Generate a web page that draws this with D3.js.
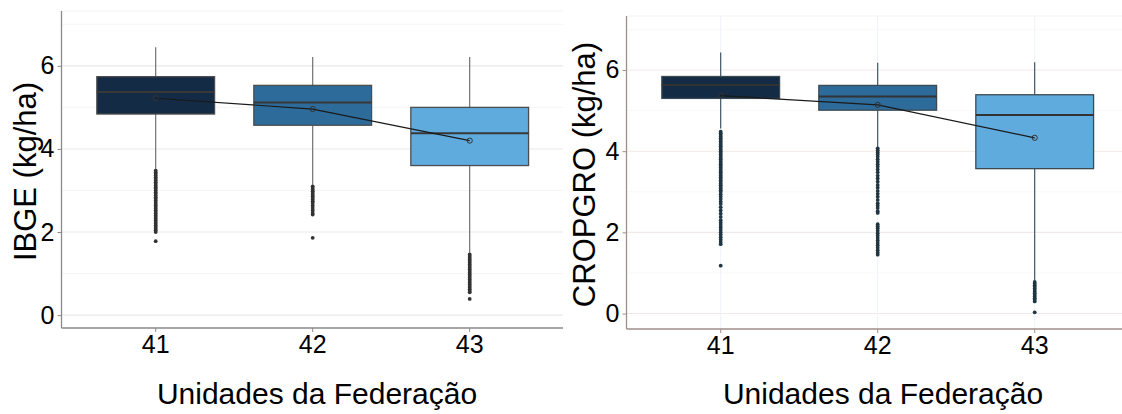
<!DOCTYPE html>
<html>
<head>
<meta charset="utf-8">
<script src="https://cdn.jsdelivr.net/npm/d3@7"></script>
<style>
  body { margin: 0; background: #fff; }
  text { font-family: "Liberation Sans", Arial, sans-serif; }
</style>
</head>
<body>
<svg id="chart" width="1122" height="414"></svg>
<script>
// categorias (Unidades da Federação)
const categories = ["41", "42", "43"];
const boxColors = ["#132b45", "#2d6b9a", "#60abdd"];
const yTicks = [0, 2, 4, 6];
const yMinorTicks = [1, 3, 5, 7];

// painel esquerdo - IBGE
const ibgeWhiskerLow = [3.52, 3.14, 1.50];
const ibgeQ1 = [4.84, 4.57, 3.60];
const ibgeMedian = [5.37, 5.12, 4.38];
const ibgeQ3 = [5.74, 5.53, 5.00];
const ibgeWhiskerHigh = [6.45, 6.21, 6.21];
const ibgeMean = [5.22, 4.96, 4.20];
const ibgeOutliers = [
  [3.48, 3.44, 3.40, 3.36, 3.32, 3.28, 3.24, 3.20, 3.16, 3.12, 3.08, 3.04, 3.00, 2.96, 2.92, 2.88,
   2.84, 2.80, 2.76, 2.72, 2.68, 2.64, 2.60, 2.56, 2.52, 2.48, 2.44, 2.40, 2.36, 2.32, 2.28, 2.24,
   2.20, 2.16, 2.12, 2.08, 2.04, 2.00, 1.78],
  [3.10, 3.06, 3.02, 2.98, 2.94, 2.90, 2.86, 2.82, 2.78, 2.74, 2.70, 2.64, 2.58, 2.52, 2.46, 2.42, 1.86],
  [1.46, 1.42, 1.38, 1.34, 1.30, 1.26, 1.22, 1.18, 1.14, 1.10, 1.06, 1.02, 0.98, 0.94, 0.90, 0.86,
   0.82, 0.78, 0.74, 0.70, 0.66, 0.62, 0.58, 0.55, 0.39]
];

// painel direito - CROPGRO
const cropWhiskerLow = [4.56, 4.10, 0.82];
const cropQ1 = [5.30, 5.01, 3.57];
const cropMedian = [5.63, 5.35, 4.89];
const cropQ3 = [5.84, 5.62, 5.39];
const cropWhiskerHigh = [6.43, 6.18, 6.19];
const cropMean = [5.37, 5.14, 4.33];
const cropOutliers = [
  [4.48, 4.44, 4.40, 4.36, 4.32, 4.28, 4.24, 4.20, 4.16, 4.12, 4.08, 4.04, 4.00, 3.96, 3.92, 3.88,
   3.84, 3.80, 3.76, 3.72, 3.68, 3.64, 3.60, 3.56, 3.52, 3.48, 3.44, 3.40, 3.36, 3.32, 3.28, 3.24,
   3.20, 3.16, 3.12, 3.08, 3.04, 3.00, 2.94, 2.88, 2.82, 2.76, 2.70, 2.62, 2.54, 2.46, 2.38, 2.30,
   2.24, 2.18, 2.12, 2.06, 2.00, 1.94, 1.88, 1.82, 1.76, 1.71, 1.18],
  [4.07, 4.02, 3.97, 3.92, 3.86, 3.80, 3.74, 3.68, 3.62, 3.55, 3.48, 3.40, 3.33, 3.25, 3.17, 3.10,
   3.02, 2.95, 2.88, 2.80, 2.72, 2.66, 2.60, 2.52, 2.48, 2.20, 2.15, 2.10, 2.04, 1.98, 1.92, 1.86,
   1.80, 1.74, 1.68, 1.62, 1.56, 1.50, 1.45],
  [0.78, 0.74, 0.70, 0.66, 0.62, 0.58, 0.54, 0.50, 0.46, 0.42, 0.38, 0.34, 0.30, 0.03]
];

const svg = d3.select("#chart");

// desenha um painel com boxplots + linha das médias
function drawPanel(cfg) {
  const g = svg.append("g");

  const x = d3.scaleBand()
    .domain(categories)
    .range([cfg.left, cfg.left + 502.4])
    .paddingInner(0.25)
    .paddingOuter(0.225);

  const y = d3.scaleLinear()
    .domain(cfg.yDomain)
    .range([cfg.bottom, cfg.top]);

  // linhas de grade
  g.selectAll("line.minor")
    .data(yMinorTicks)
    .enter().append("line")
    .attr("x1", cfg.left).attr("x2", cfg.right)
    .attr("y1", d => y(d)).attr("y2", d => y(d))
    .attr("stroke", cfg.minorGrid).attr("stroke-width", 1);

  g.selectAll("line.major")
    .data(yTicks)
    .enter().append("line")
    .attr("x1", cfg.left).attr("x2", cfg.right)
    .attr("y1", d => y(d)).attr("y2", d => y(d))
    .attr("stroke", cfg.majorGrid).attr("stroke-width", 1.1);

  if (cfg.vGrid) {
    g.selectAll("line.vgrid")
      .data(categories)
      .enter().append("line")
      .attr("x1", d => x(d) + x.bandwidth() / 2).attr("x2", d => x(d) + x.bandwidth() / 2)
      .attr("y1", cfg.top).attr("y2", cfg.bottom)
      .attr("stroke", cfg.vGrid).attr("stroke-width", 1);
  }

  // borda superior clara
  g.append("line")
    .attr("x1", cfg.left).attr("x2", cfg.right)
    .attr("y1", cfg.top).attr("y2", cfg.top)
    .attr("stroke", "#f3f3f3");

  const cx = d => x(d) + x.bandwidth() / 2;

  // bigodes
  g.selectAll("line.whisker")
    .data(categories)
    .enter().append("line")
    .attr("x1", cx).attr("x2", cx)
    .attr("y1", (d, i) => y(cfg.whiskerHigh[i]))
    .attr("y2", (d, i) => y(cfg.whiskerLow[i]))
    .attr("stroke", cfg.whiskerColor).attr("stroke-width", 1.1);

  // outliers
  categories.forEach((c, i) => {
    g.selectAll(null)
      .data(cfg.outliers[i])
      .enter().append("circle")
      .attr("cx", cx(c))
      .attr("cy", d => y(d))
      .attr("r", 1.9)
      .attr("fill", cfg.pointColor);
  });

  // caixas
  g.selectAll("rect.box")
    .data(categories)
    .enter().append("rect")
    .attr("x", d => x(d))
    .attr("width", x.bandwidth())
    .attr("y", (d, i) => y(cfg.q3[i]))
    .attr("height", (d, i) => y(cfg.q1[i]) - y(cfg.q3[i]))
    .attr("fill", (d, i) => boxColors[i])
    .attr("stroke", cfg.boxStroke)
    .attr("stroke-width", 1.3);

  // medianas
  g.selectAll("line.median")
    .data(categories)
    .enter().append("line")
    .attr("x1", d => x(d)).attr("x2", d => x(d) + x.bandwidth())
    .attr("y1", (d, i) => y(cfg.median[i])).attr("y2", (d, i) => y(cfg.median[i]))
    .attr("stroke", cfg.medianColor).attr("stroke-width", 2);

  // linha das médias
  const line = d3.line()
    .x(d => cx(d.cat))
    .y(d => y(d.v));
  const meanData = categories.map((c, i) => ({ cat: c, v: cfg.mean[i] }));
  g.append("path")
    .datum(meanData)
    .attr("d", line)
    .attr("fill", "none")
    .attr("stroke", "#1a1a1a")
    .attr("stroke-width", 1.2);
  g.selectAll("circle.mean")
    .data(meanData)
    .enter().append("circle")
    .attr("cx", d => cx(d.cat)).attr("cy", d => y(d.v))
    .attr("r", 2.6)
    .attr("fill", "none")
    .attr("stroke", "#333")
    .attr("stroke-width", 1);

  // eixos
  const yAxis = g.append("g")
    .attr("transform", `translate(${cfg.left},0)`)
    .call(d3.axisLeft(y).tickValues(yTicks).tickSize(4).tickPadding(3).tickFormat(d3.format("d")));
  const xAxis = g.append("g")
    .attr("transform", `translate(0,${cfg.bottom})`)
    .call(d3.axisBottom(x).tickSize(4).tickPadding(3));

  [yAxis, xAxis].forEach(a => {
    a.select(".domain").attr("stroke", cfg.axisColor).attr("stroke-width", 1.3);
    a.selectAll(".tick line").attr("stroke", cfg.axisColor);
    a.selectAll("text").attr("fill", "#000").attr("font-size", "25px")
      .attr("font-family", "'Liberation Sans', Arial, sans-serif");
  });
  // estende o eixo x até a borda do painel
  xAxis.select(".domain").attr("d", `M${cfg.left},0H${cfg.right}`);
  yAxis.select(".domain").attr("d", `M0,${cfg.top}V${cfg.bottom}`);

  // títulos dos eixos
  g.append("text")
    .attr("transform", `translate(${cfg.yLabelX},${(cfg.top + cfg.bottom) / 2 + 2}) rotate(-90)`)
    .attr("text-anchor", "middle")
    .attr("dominant-baseline", "middle")
    .attr("font-size", "31px")
    .attr("fill", "#000")
    .text(cfg.yLabel);

  g.append("text")
    .attr("x", cfg.xLabelX)
    .attr("y", 404)
    .attr("text-anchor", "middle")
    .attr("font-size", "30px")
    .attr("fill", "#000")
    .text("Unidades da Federação");
}

drawPanel({
  left: 61.5, right: 563, top: 11, bottom: 328,
  yDomain: [-0.31, 7.32],
  whiskerLow: ibgeWhiskerLow, q1: ibgeQ1, median: ibgeMedian, q3: ibgeQ3,
  whiskerHigh: ibgeWhiskerHigh, mean: ibgeMean, outliers: ibgeOutliers,
  majorGrid: "#e9e9e9", minorGrid: "#f5f5f5", vGrid: null,
  whiskerColor: "#666", pointColor: "#333", boxStroke: "#4d4d4d", medianColor: "#383838",
  axisColor: "#8a8a8a",
  yLabel: "IBGE (kg/ha)", yLabelX: 28, xLabelX: 317
});

drawPanel({
  left: 626.5, right: 1122, top: 16, bottom: 329,
  yDomain: [-0.38, 7.33],
  whiskerLow: cropWhiskerLow, q1: cropQ1, median: cropMedian, q3: cropQ3,
  whiskerHigh: cropWhiskerHigh, mean: cropMean, outliers: cropOutliers,
  majorGrid: "#f1e9e7", minorGrid: "#fbf8f7", vGrid: "#eef3f8",
  whiskerColor: "#2f4a57", pointColor: "#1f3642", boxStroke: "#3d4a52", medianColor: "#333",
  axisColor: "#a08e8a",
  yLabel: "CROPGRO (kg/ha)", yLabelX: 587, xLabelX: 883
});
</script>
</body>
</html>
